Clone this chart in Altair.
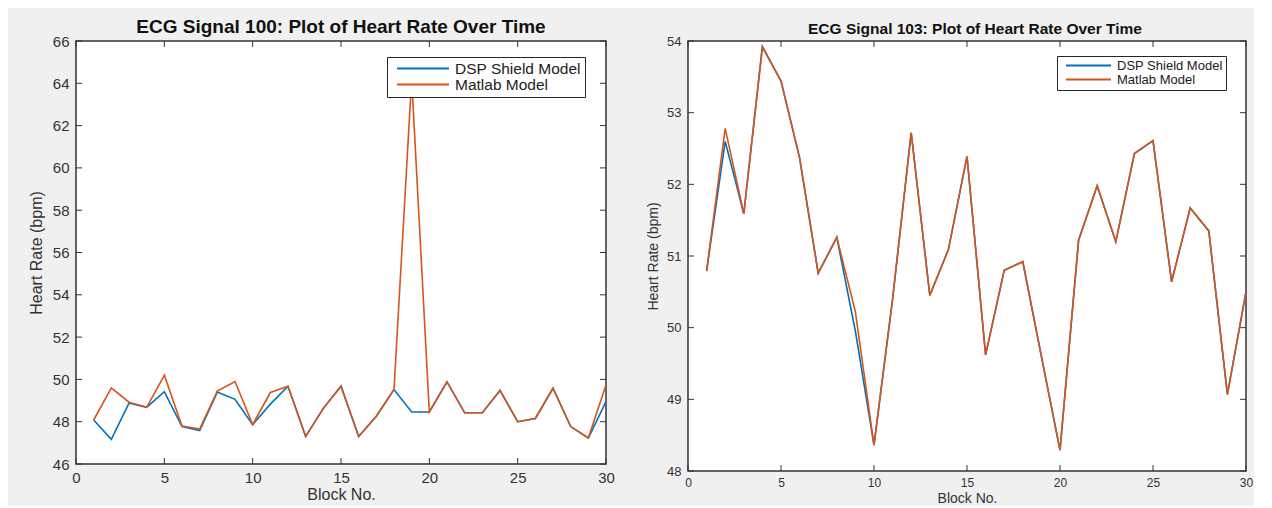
import altair as alt
import pandas as pd

# ---------------- data ----------------
blocks = list(range(1, 31))
series_names = ["DSP Shield Model", "Matlab Model"]
series_colors = ["#0072BD", "#D95319"]

sig100_dsp = [48.08, 47.17, 48.88, 48.68, 49.42, 47.77, 47.58, 49.40, 49.06, 47.86,
              48.83, 49.68, 47.30, 48.63, 49.68, 47.30, 48.26, 49.52, 48.46, 48.46,
              49.88, 48.42, 48.42, 49.48, 48.00, 48.15, 49.58, 47.77, 47.23, 48.95]
sig100_matlab = [48.08, 49.60, 48.92, 48.68, 50.20, 47.80, 47.65, 49.45, 49.90, 47.86,
                 49.38, 49.68, 47.30, 48.63, 49.68, 47.30, 48.26, 49.52, 64.20, 48.46,
                 49.88, 48.42, 48.42, 49.48, 48.00, 48.15, 49.58, 47.77, 47.23, 49.74]

sig103_dsp = [50.79, 52.60, 51.59, 53.92, 53.44, 52.37, 50.76, 51.26, 49.95, 48.36,
              50.40, 52.72, 50.45, 51.09, 52.39, 49.62, 50.80, 50.92, 49.60, 48.29,
              51.22, 51.98, 51.20, 52.43, 52.61, 50.64, 51.67, 51.35, 49.07, 50.50]
sig103_matlab = [50.79, 52.78, 51.59, 53.92, 53.44, 52.37, 50.76, 51.26, 50.22, 48.36,
                 50.40, 52.72, 50.45, 51.09, 52.39, 49.62, 50.80, 50.92, 49.60, 48.29,
                 51.22, 51.98, 51.20, 52.43, 52.61, 50.64, 51.67, 51.35, 49.07, 50.50]

x_ticks = [0, 5, 10, 15, 20, 25, 30]
y_ticks_100 = [46, 48, 50, 52, 54, 56, 58, 60, 62, 64, 66]
y_ticks_103 = [48, 49, 50, 51, 52, 53, 54]

FONT = "Liberation Sans"
TXT = "#333333"
AX = "#333333"


def long_df(dsp, matlab):
    rows = []
    for b, v in zip(blocks, dsp):
        rows.append({"block": b, "bpm": v, "model": series_names[0]})
    for b, v in zip(blocks, matlab):
        rows.append({"block": b, "bpm": v, "model": series_names[1]})
    return pd.DataFrame(rows)


def panel(df, yticks, W, H, title, title_fs, title_off, title_dx, xlab_fs, ylab_fs,
          xttl_fs, yttl_fs, ytitle_pad, xtitle_pad, leg):
    x_enc = alt.X(
        "block:Q",
        scale=alt.Scale(domain=[0, 30], nice=False, zero=False),
        axis=alt.Axis(values=x_ticks, title="Block No.", ticks=False, domain=False,
                      grid=False, labelFlush=False, labelFontSize=xlab_fs,
                      labelPadding=6, titlePadding=xtitle_pad, titleFontSize=xttl_fs,
                      titleFontWeight="normal", labelColor=TXT, titleColor=TXT,
                      labelFont=FONT, titleFont=FONT),
    )
    y_enc = alt.Y(
        "bpm:Q",
        scale=alt.Scale(domain=[yticks[0], yticks[-1]], nice=False, zero=False),
        axis=alt.Axis(values=yticks, title="Heart Rate (bpm)", ticks=False, domain=False,
                      grid=False, labelFlush=False, labelFontSize=ylab_fs,
                      labelPadding=7, titlePadding=ytitle_pad, titleFontSize=yttl_fs,
                      titleFontWeight="normal", labelColor=TXT, titleColor=TXT,
                      labelFont=FONT, titleFont=FONT),
    )
    color = alt.Color(
        "model:N",
        scale=alt.Scale(domain=series_names, range=series_colors),
        legend=alt.Legend(title=None, orient="none", legendX=leg["x"], legendY=leg["y"],
                          fillColor="white", strokeColor="#262626", padding=leg["pad"],
                          symbolType="stroke", symbolSize=leg["sym"], symbolStrokeWidth=2,
                          symbolOffset=5, labelFontSize=leg["fs"], labelFont=FONT,
                          labelColor="#222222", rowPadding=0, labelOffset=5,
                          clipHeight=leg["clip"], cornerRadius=0),
    )
    lines = alt.Chart(df).mark_line(strokeWidth=1.6, clip=True).encode(
        x=x_enc, y=y_enc, color=color
    )
    xt = pd.DataFrame({"block": x_ticks})
    yt = pd.DataFrame({"bpm": yticks})
    bottom = alt.Chart(xt).mark_rule(color=AX, strokeWidth=1).encode(
        x=x_enc, y=alt.value(H), y2=alt.value(H - 6))
    top = alt.Chart(xt).mark_rule(color=AX, strokeWidth=1).encode(
        x=x_enc, y=alt.value(0), y2=alt.value(6))
    left = alt.Chart(yt).mark_rule(color=AX, strokeWidth=1).encode(
        y=y_enc, x=alt.value(0), x2=alt.value(6))
    right = alt.Chart(yt).mark_rule(color=AX, strokeWidth=1).encode(
        y=y_enc, x=alt.value(W), x2=alt.value(W - 6))
    return alt.layer(bottom, top, left, right, lines).properties(
        width=W, height=H,
        title=alt.Title(title, fontSize=title_fs, fontWeight="bold", font=FONT,
                        color="#111111", offset=title_off, dx=title_dx, anchor="middle"),
    )


p1 = panel(long_df(sig100_dsp, sig100_matlab), y_ticks_100, 530, 423,
           "ECG Signal 100: Plot of Heart Rate Over Time", 19, -3, 0, 15, 15, 16, 16, 8, 1,
           {"x": 311, "y": 16, "pad": 4, "sym": 2704, "fs": 15.5, "clip": 15})
p2 = panel(long_df(sig103_dsp, sig103_matlab), y_ticks_103, 558, 430,
           "ECG Signal 103: Plot of Heart Rate Over Time", 15.5, -2, 8, 12, 13, 14, 14, 6, 3,
           {"x": 369, "y": 15, "pad": 3, "sym": 2025, "fs": 13, "clip": 13})

chart = (
    alt.hconcat(p1, p2, spacing=29)
    .resolve_scale(color="independent")
    .resolve_legend(color="independent")
    .properties(padding={"left": 19, "top": 9, "right": 0, "bottom": 0})
    .configure(background="#f0f0f0")
    .configure_view(fill="white", stroke="#333333", strokeWidth=1.5)
)

chart.save("out.html", embed_options={"renderer": "svg", "actions": False})
